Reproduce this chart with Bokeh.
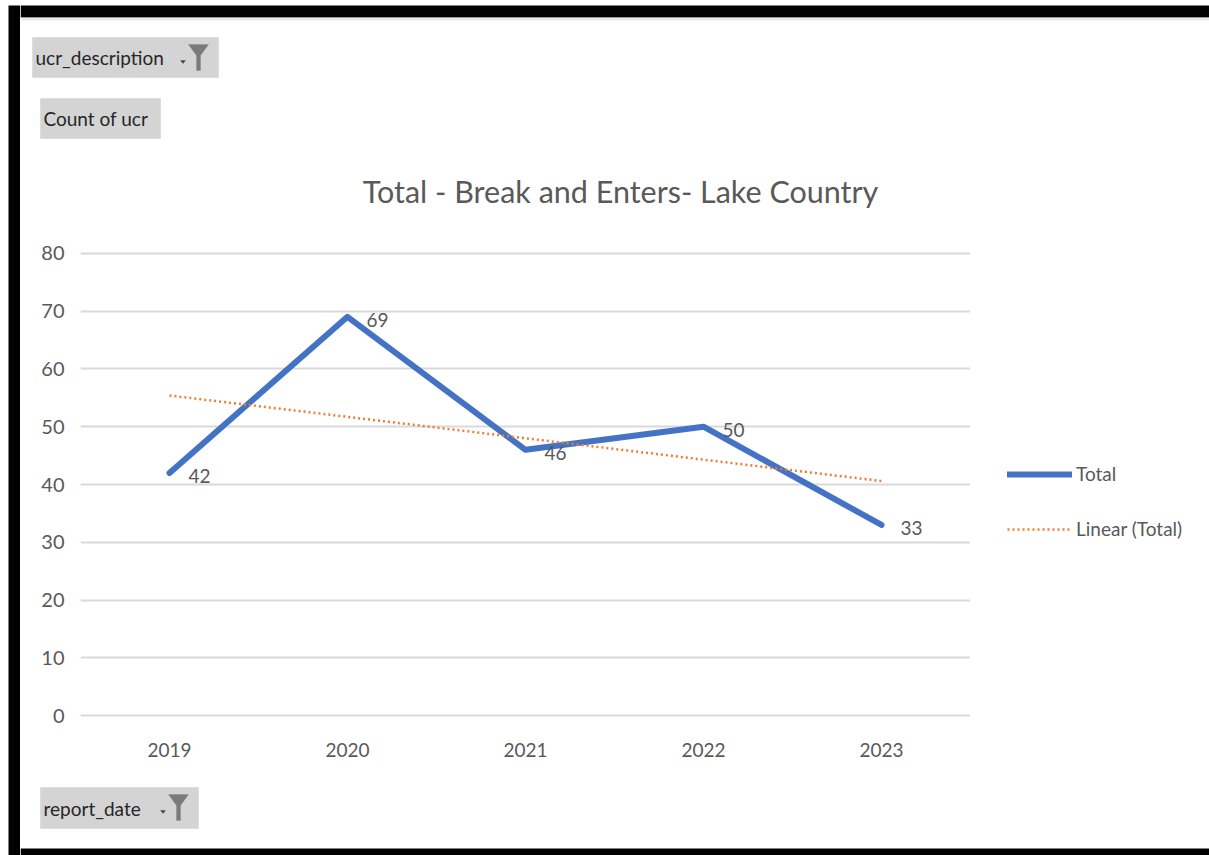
import numpy as np
from bokeh.plotting import figure
from bokeh.layouts import row, column
from bokeh.models import (ColumnDataSource, FactorRange, Range1d, FixedTicker, Label, LabelSet,
                          BoxAnnotation, PolyAnnotation, Legend, LegendItem)
from bokeh.core.properties import value
from bokeh.embed import file_html
from bokeh.resources import INLINE

# ---- data ----
years = ["2019", "2020", "2021", "2022", "2023"]
totals = [42, 69, 46, 50, 33]
y_ticks = [0, 10, 20, 30, 40, 50, 60, 70, 80]
title_text = "Total - Break and Enters- Lake Country"
series_name = "Total"
trend_name = "Linear (Total)"
filter_fields = ["ucr_description", "report_date"]
value_field = "Count of ucr"

# linear trendline (least-squares fit of the series, as Excel's "Linear" trendline)
idx = np.arange(1, len(totals) + 1)
slope, intercept = np.polyfit(idx, totals, 1)
trend_x = [years[0], years[-1]]
trend_y = [slope * idx[0] + intercept, slope * idx[-1] + intercept]

FONT = "Lato"
GREY = "#595959"
DARK = "#262626"
BTN = "#d4d4d4"
BLUE = "#4472C4"
ORANGE = "#ED7D31"

LEFT_W = 20                     # left strip figure (page x 0..20)
RIGHT_W = 1209 - LEFT_W
LEG_W = 239                     # legend area (page x 970..1209)
MAIN_W = RIGHT_W - LEG_W        # main chart (page x 20..970)
TOP_H = 230                     # page y 0..230
MAIN_H = 545                    # page y 230..775
BOT_H = 855 - TOP_H - MAIN_H    # page y 775..855

TOTAL_STYLE = dict(line_color=BLUE, line_width=6, line_cap="round", line_join="round")
TREND_STYLE = dict(line_color=ORANGE, line_width=2.5, line_dash="2 3")


def deco_fig(w, h):
    f = figure(width=w, height=h, x_range=Range1d(0, w), y_range=Range1d(h, 0),
               output_backend="svg", toolbar_location=None, tools="",
               x_axis_location=None, y_axis_location=None,
               min_border=0, min_border_left=0, min_border_right=0,
               min_border_top=0, min_border_bottom=0, frame_align=False)
    f.outline_line_color = None
    f.xgrid.visible = False
    f.ygrid.visible = False
    f.background_fill_color = "white"
    f.border_fill_color = "white"
    return f


def box(f, l, t, r, b, color, line=None, alpha=1.0):
    f.add_layout(BoxAnnotation(left=l, right=r, top=t, bottom=b, fill_color=color,
                               fill_alpha=alpha, line_color=line, line_width=1))


def button(f, x0, y0, l, t, r, b, text, funnel):
    # l,t,r,b in page pixels; (x0, y0) = page position of the figure's origin
    box(f, l - x0, t - y0, r - x0, b - y0, BTN, "#c4c4c4")
    f.add_layout(Label(x=l + 3 - x0, y=(t + b) / 2 - y0, text=text, text_align="left",
                       text_baseline="middle", text_font=FONT, text_font_size="19px",
                       text_color=DARK))
    if funnel:
        fx = r - 30 - x0
        fy = t + 7 - y0
        f.add_layout(PolyAnnotation(xs=[fx - 8, fx - 3, fx - 5.5],
                                    ys=[fy + 16, fy + 16, fy + 19],
                                    fill_color="#404040", fill_alpha=1, line_color="#404040"))
        f.add_layout(PolyAnnotation(xs=[fx, fx + 20, fx + 12, fx + 12, fx + 8, fx + 8],
                                    ys=[fy, fy, fy + 11, fy + 26, fy + 26, fy + 11],
                                    fill_color="#7a7a7a", fill_alpha=1, line_color="#7a7a7a"))


# ---- left black strip ----
left = deco_fig(LEFT_W, 855)
box(left, 8, 5, LEFT_W, 855, "black")

# ---- top area: frame top border, pivot buttons, title ----
top = deco_fig(RIGHT_W, TOP_H)
box(top, 0, 5, RIGHT_W, 17, "black")
box(top, 0, 17, RIGHT_W, 20, "#dcdcdc", alpha=0.6)
button(top, LEFT_W, 0, 32, 37, 218, 77, filter_fields[0], True)
button(top, LEFT_W, 0, 40, 98, 160, 138, value_field, False)
top.add_layout(Label(x=620 - LEFT_W, y=190, text=title_text, text_align="center",
                     text_baseline="middle", text_font=FONT, text_font_size="30.5px",
                     text_color=GREY))

# ---- main chart ----
p = figure(width=MAIN_W, height=MAIN_H,
           x_range=FactorRange(*years, range_padding=0, factor_padding=0),
           y_range=Range1d(-1, 81),
           output_backend="svg", toolbar_location=None, tools="",
           min_border_left=60, min_border_right=0,
           min_border_top=17, min_border_bottom=54, frame_align=False)
p.outline_line_color = None
p.background_fill_color = "white"
p.border_fill_color = "white"

for ax in (p.xaxis[0], p.yaxis[0]):
    ax.axis_line_color = None
    ax.major_tick_line_color = None
    ax.minor_tick_line_color = None
    ax.major_label_text_font = FONT
    ax.major_label_text_color = GREY
p.xaxis.major_label_text_font_size = "19px"
p.yaxis.major_label_text_font_size = "20px"
p.xaxis.major_label_standoff = 15
p.yaxis.major_label_standoff = 10
p.yaxis.ticker = FixedTicker(ticks=y_ticks)
p.ygrid.ticker = FixedTicker(ticks=y_ticks)
p.xgrid.visible = False
p.ygrid.grid_line_color = "#d9d9d9"
p.ygrid.grid_line_width = 2

src = ColumnDataSource(dict(year=years, total=totals, label=[str(v) for v in totals]))
p.line("year", "total", source=src, **TOTAL_STYLE)
p.line(trend_x, trend_y, **TREND_STYLE)

labels = LabelSet(x="year", y="total", text="label", source=src, x_offset=19, y_offset=-3,
                  text_align="left", text_baseline="middle",
                  text_font=value(FONT), text_font_size="19px", text_color=GREY)
p.add_layout(labels)

# ---- legend area (to the right of the plot) ----
# legend proxies: same styles as the plotted series, placed off-canvas so only the
# legend swatches show
leg = deco_fig(LEG_W, MAIN_H)
off = [-10000, -9000]
k_total = leg.line(off, off, **TOTAL_STYLE)
k_trend = leg.line(off, off, **TREND_STYLE)
legend = Legend(items=[LegendItem(label=series_name, renderers=[k_total]),
                       LegendItem(label=trend_name, renderers=[k_trend])],
                location=(1007 - 970, 775 - 540), orientation="vertical",
                glyph_width=65, glyph_height=20, label_height=20, spacing=32,
                label_standoff=4, padding=0, margin=0,
                border_line_color=None, background_fill_alpha=0,
                label_text_font=FONT, label_text_font_size="19px", label_text_color=GREY)
leg.add_layout(legend)

# ---- bottom area: report_date button, frame bottom border ----
bot = deco_fig(RIGHT_W, BOT_H)
y0b = TOP_H + MAIN_H
button(bot, LEFT_W, y0b, 40, 787, 198, 828, filter_fields[1], True)
box(bot, 0, 848 - y0b, RIGHT_W, BOT_H, "black")

layout = row(left, column(top, row(p, leg, spacing=0), bot, spacing=0), spacing=0)
open("out.html", "w").write(file_html(layout, INLINE))
